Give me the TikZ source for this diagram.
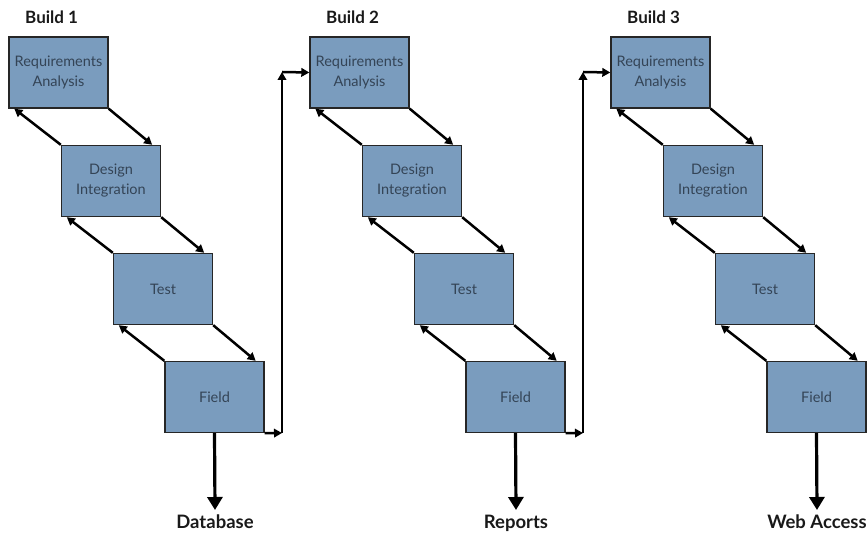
\documentclass[tikz,border=0pt]{standalone}
\usepackage{fontspec}
\setmainfont{Lato}[Ligatures=NoCommon]
\usetikzlibrary{arrows.meta,calc}
\definecolor{boxfill}{RGB}{122,156,190}
\definecolor{boxtext}{RGB}{52,68,86}
\definecolor{labtext}{RGB}{25,25,25}
\tikzset{
  stage/.style={draw=black!85, line width=1.4pt, fill=boxfill, minimum width=99pt, minimum height=71pt,
    inner sep=0pt, align=center, text=boxtext, font=\fontsize{14.5}{20}\selectfont},
  link/.style={line width=2.5pt, -{Triangle[length=8pt,width=8.5pt]}},
  outarrow/.style={line width=3.2pt, -{Triangle[length=13pt,width=15pt]}},
  buildlab/.style={font=\bfseries\fontsize{17}{19}\selectfont, text=labtext, anchor=west, inner sep=0pt},
  outlab/.style={font=\bfseries\fontsize{18.5}{20}\selectfont, text=labtext, anchor=north, inner xsep=2pt, inner ysep=5pt}
}
\begin{document}
\begin{tikzpicture}[x=1pt,y=-1pt]
\useasboundingbox (0,0) rectangle (868,534);
\foreach \k/\out/\bl in {0/Database/Build 1, 1/Reports/Build 2, 2/Web Access/Build 3}{
  \pgfmathsetmacro{\dx}{301*\k}
  \node[buildlab] (b\k) at (25+\dx,17) {\bl};
  \node[stage] (r\k) at (58.5+\dx,72.5) {Requirements\\Analysis};
  \node[stage] (d\k) at (111+\dx,181) {Design\\Integration};
  \node[stage] (t\k) at (163+\dx,289) {Test};
  \node[stage] (f\k) at (214.5+\dx,397) {Field};
  \node[outlab] (o\k) at (215+\dx,510) {\out};
  \draw[outarrow] (f\k.south) -- (o\k.north);
  \draw[link] (r\k.south east) -- ($(d\k.north east)+(-9,0)$);
  \draw[link] (d\k.north west) -- ($(r\k.south west)+(6,0)$);
  \draw[link] (d\k.south east) -- ($(t\k.north east)+(-9,0)$);
  \draw[link] (t\k.north west) -- ($(d\k.south west)+(6,0)$);
  \draw[link] (t\k.south east) -- ($(f\k.north east)+(-9,0)$);
  \draw[link] (f\k.north west) -- ($(t\k.south west)+(6,0)$);
}
\foreach \k/\n in {0/1, 1/2}{
  \pgfmathsetmacro{\dx}{301*\k}
  \coordinate (lo\k) at (282+\dx,433);
  \coordinate (hi\k) at (282+\dx,72);
  \draw[link] (f\k.south east) -- (lo\k);
  \draw[link] (lo\k) -- (hi\k);
  \draw[link] (hi\k) -- (r\n.west);
}
\end{tikzpicture}
\end{document}
